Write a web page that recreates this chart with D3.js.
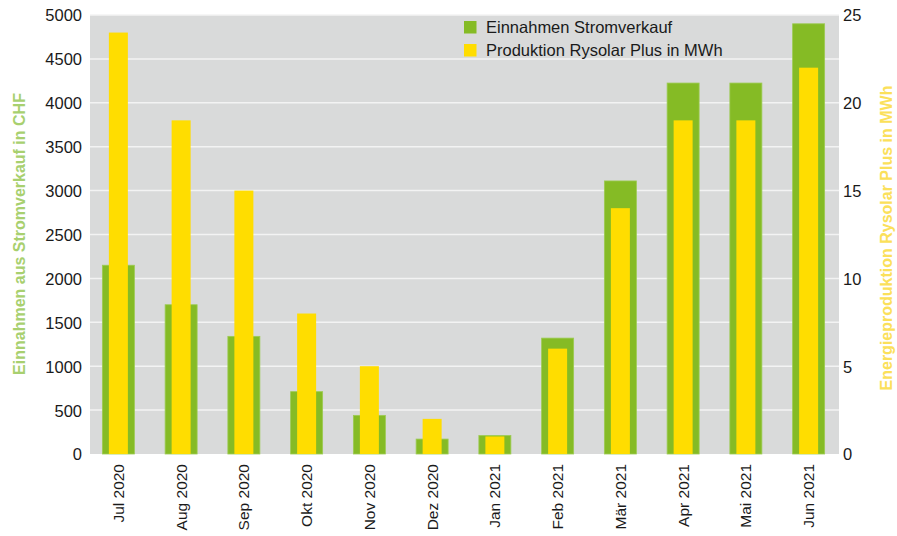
<!DOCTYPE html>
<html><head><meta charset="utf-8">
<script src="https://cdn.jsdelivr.net/npm/d3@7"></script>
<style>body{margin:0;background:#fff}svg{display:block;font-family:"Liberation Sans",Arial,sans-serif}</style>
</head><body><svg id="c" width="897" height="536"></svg>
<script>
const months = ["Jul 2020","Aug 2020","Sep 2020","Okt 2020","Nov 2020","Dez 2020","Jan 2021","Feb 2021","Mär 2021","Apr 2021","Mai 2021","Jun 2021"];
const revenueCHF = [2150,1700,1340,710,440,170,210,1320,3110,4225,4225,4900];
const productionMWh = [24,19,15,8,5,2,1,6,14,19,19,22];
const leftTicks = [0,500,1000,1500,2000,2500,3000,3500,4000,4500,5000];
const rightTicks = [0,5,10,15,20,25];
const seriesNames = ["Einnahmen Stromverkauf","Produktion Rysolar Plus in MWh"];
const colors = {green:"#85bb25", yellow:"#ffdd00"};

const svg = d3.select("#c");
const plot = {l:90, r:839, t:15, b:454};
const x = d3.scaleBand().domain(months).range([87,840]);
const yL = d3.scaleLinear().domain([0,5000]).range([plot.b, plot.t]);
const yR = d3.scaleLinear().domain([0,25]).range([plot.b, plot.t]);

svg.append("rect").attr("x",plot.l).attr("y",plot.t).attr("width",plot.r-plot.l).attr("height",plot.b-plot.t).attr("fill","#d9dada");

svg.append("g").selectAll("line").data(leftTicks.filter(d=>d>0)).join("line")
  .attr("x1",plot.l).attr("x2",plot.r).attr("y1",d=>yL(d)).attr("y2",d=>yL(d))
  .attr("stroke","#f3f3f3").attr("stroke-width",1.5);

const gw = 32, yw = 19;
svg.append("g").selectAll("rect").data(months).join("rect")
  .attr("x",d=>x(d)+x.bandwidth()/2-gw/2).attr("width",gw)
  .attr("y",(d,i)=>yL(revenueCHF[i])).attr("height",(d,i)=>plot.b-yL(revenueCHF[i]))
  .attr("fill",colors.green).attr("stroke","#9ccb52").attr("stroke-width",0.8);
svg.append("g").selectAll("rect").data(months).join("rect")
  .attr("x",d=>x(d)+x.bandwidth()/2-yw/2).attr("width",yw)
  .attr("y",(d,i)=>yR(productionMWh[i])).attr("height",(d,i)=>plot.b-yR(productionMWh[i]))
  .attr("fill",colors.yellow);

const fmt = d3.format("d");
// left axis
const la = svg.append("g").attr("transform",`translate(82,0)`)
  .call(d3.axisLeft(yL).tickValues(leftTicks).tickFormat(fmt).tickSize(0).tickPadding(0));
la.select(".domain").remove();
la.selectAll("text").attr("font-size",16.5).attr("fill","#1a1a1a").attr("font-family","Liberation Sans, Arial, sans-serif").attr("dy","0.36em");

// right axis
const ra = svg.append("g").attr("transform",`translate(843,0)`)
  .call(d3.axisRight(yR).tickValues(rightTicks).tickFormat(fmt).tickSize(0).tickPadding(0));
ra.select(".domain").remove();
ra.selectAll("text").attr("font-size",16.5).attr("fill","#1a1a1a").attr("font-family","Liberation Sans, Arial, sans-serif").attr("dy","0.36em");

// x axis labels
const xa = svg.append("g").attr("transform",`translate(0,464)`)
  .call(d3.axisBottom(x).tickSize(0).tickPadding(0));
xa.select(".domain").remove();
xa.selectAll("text").attr("font-size",15.5).attr("fill","#1a1a1a").attr("font-family","Liberation Sans, Arial, sans-serif")
  .attr("transform","rotate(-90)").attr("text-anchor","end").attr("x",0).attr("y",0).attr("dy","0.36em");

// axis titles
svg.append("text").attr("transform","translate(25,234) rotate(-90)").attr("text-anchor","middle")
  .attr("font-size",16).attr("font-weight","bold").attr("fill","#a8d06f").text("Einnahmen aus Stromverkauf in CHF");
svg.append("text").attr("transform","translate(892,238) rotate(-90)").attr("text-anchor","middle")
  .attr("font-size",16).attr("font-weight","bold").attr("fill","#fbe05a").text("Energieproduktion Rysolar Plus in MWh");

// legend
const lg = svg.append("g").attr("transform","translate(464,21)");
[colors.green, colors.yellow].forEach((c,i)=>{
  lg.append("rect").attr("x",0).attr("y",i*23).attr("width",12.5).attr("height",12.5).attr("fill",c);
  lg.append("text").attr("x",22).attr("y",i*23+6.5).attr("dy","0.36em").attr("font-size",16.5).attr("fill","#1a1a1a").text(seriesNames[i]);
});
</script></body></html>
